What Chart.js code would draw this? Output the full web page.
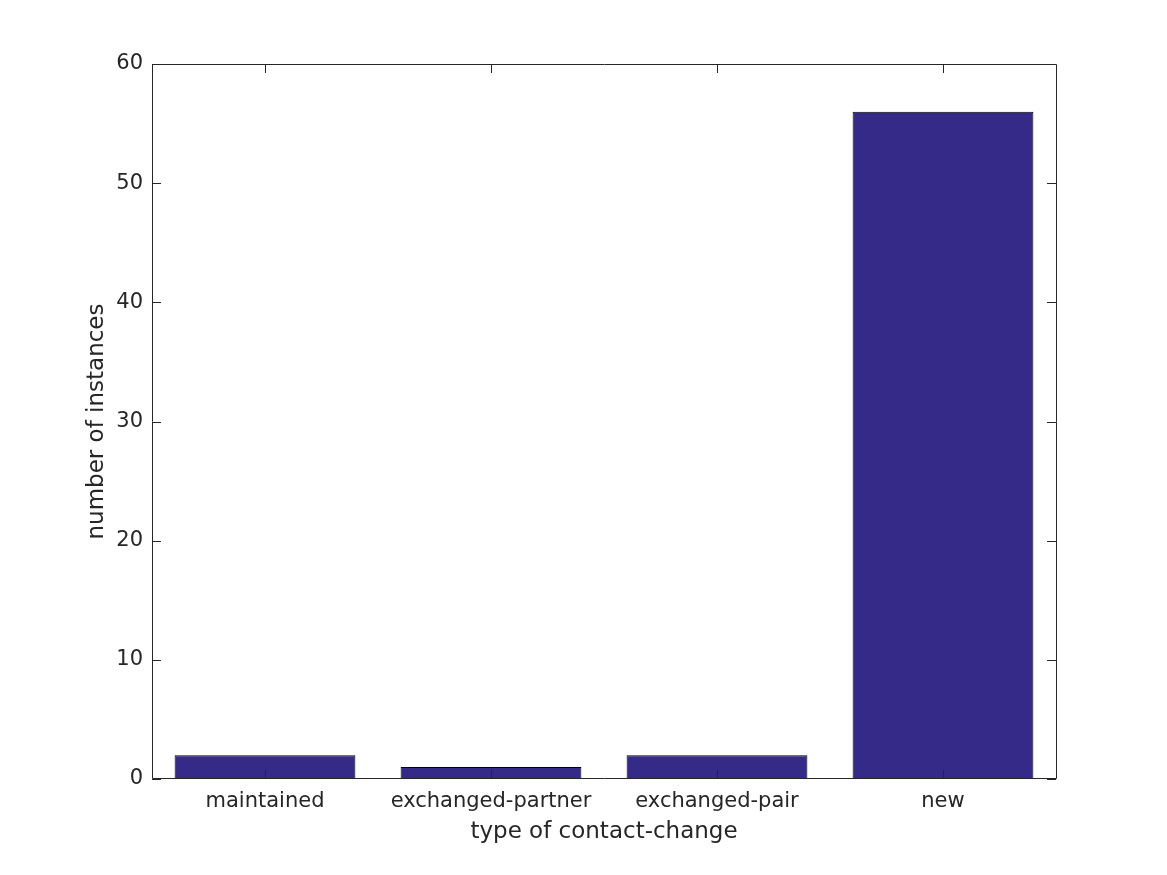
<!DOCTYPE html>
<html lang="en">
<head>
  <meta charset="UTF-8" />
  <title>type of contact-change</title>
  <script src="https://cdn.jsdelivr.net/npm/chart.js"></script>
  <style>
    html, body { margin: 0; padding: 0; background: #fff; }
    #wrap { width: 1167px; height: 875px; position: relative; }
  </style>
</head>
<body>
  <div id="wrap"><canvas id="chart"></canvas></div>

  <script>
    // data
    const categories = ['maintained', 'exchanged-partner', 'exchanged-pair', 'new'];
    const instances = [2, 1, 2, 56];
    const yTicks = [0, 10, 20, 30, 40, 50, 60];

    const textColor = '#262626';
    const barColor = '#352a87';

    // matlab-like box with inward ticks, drawn over the bars
    const boxPlugin = {
      id: 'box',
      afterDatasetsDraw(chart) {
        const { ctx, chartArea: a, scales } = chart;
        const len = 9;
        ctx.save();
        ctx.strokeStyle = textColor;
        ctx.lineWidth = 1;
        ctx.beginPath();
        ctx.rect(a.left + 0.5, a.top + 0.5, a.right - a.left, a.bottom - a.top - 1);
        scales.y.ticks.forEach(t => {
          const py = Math.round(scales.y.getPixelForValue(t.value)) + 0.5;
          ctx.moveTo(a.left, py); ctx.lineTo(a.left + len, py);
          ctx.moveTo(a.right, py); ctx.lineTo(a.right - len, py);
        });
        categories.forEach((c, i) => {
          const px = Math.round(scales.x.getPixelForValue(i)) + 0.5;
          ctx.moveTo(px, a.bottom); ctx.lineTo(px, a.bottom - len);
          ctx.moveTo(px, a.top); ctx.lineTo(px, a.top + len);
        });
        ctx.stroke();
        ctx.restore();
      }
    };

    new Chart(document.getElementById('chart'), {
      type: 'bar',
      data: {
        labels: categories,
        datasets: [{
          data: instances,
          backgroundColor: barColor,
          borderColor: '#000',
          borderWidth: 1,
          barPercentage: 0.8,
          categoryPercentage: 1.0
        }]
      },
      options: {
        responsive: true,
        maintainAspectRatio: false,
        animation: false,
        layout: { padding: { top: 64, right: 111, left: 0, bottom: 0 } },
        plugins: {
          legend: { display: false },
          tooltip: { enabled: false }
        },
        scales: {
          x: {
            grid: { display: false },
            border: { display: false },
            ticks: {
              color: textColor,
              font: { family: 'DejaVu Sans', size: 21 },
              padding: 2,
              maxRotation: 0
            },
            title: {
              display: true,
              text: 'type of contact-change',
              color: textColor,
              font: { family: 'DejaVu Sans', size: 23 },
              padding: { top: 0, bottom: 29 }
            },
            afterFit(scale) { scale.height = 96; }
          },
          y: {
            min: 0,
            max: 60,
            afterBuildTicks(scale) { scale.ticks = yTicks.map(v => ({ value: v })); },
            grid: { display: false },
            border: { display: false },
            ticks: {
              color: textColor,
              font: { family: 'DejaVu Sans', size: 21 },
              padding: 1
            },
            title: {
              display: true,
              text: 'number of instances',
              color: textColor,
              font: { family: 'DejaVu Sans', size: 23 },
              padding: { top: 83, bottom: 0 }
            },
            afterFit(scale) { scale.width = 152; }
          }
        }
      },
      plugins: [boxPlugin]
    });
  </script>
</body>
</html>
